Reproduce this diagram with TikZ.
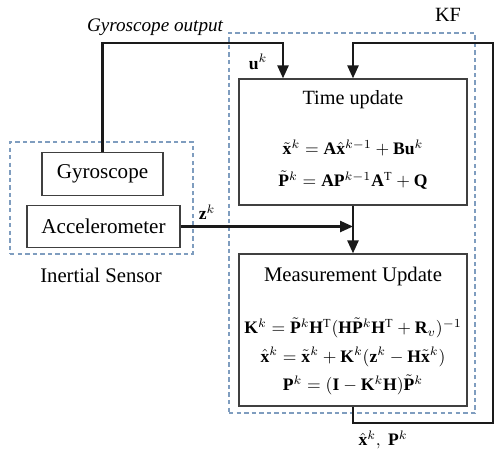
\documentclass[tikz,border=0pt]{standalone}
\usepackage{amsmath}
\usepackage{fontspec}
\setmainfont{Liberation Serif}
\usetikzlibrary{arrows.meta,positioning,fit,calc}
\definecolor{kfdash}{HTML}{7F9DBF}
\definecolor{kfline}{HTML}{1A1A1A}
\tikzset{
  blockbox/.style={
    draw=black!75,
    line width=0.7pt,
    minimum width=4.56cm,
    inner sep=0pt
  },
  sensorbox/.style={
    draw=black!75,
    line width=0.7pt,
    minimum height=0.85cm,
    inner sep=0pt,
    font=\fontsize{12}{14}\selectfont
  },
  groupbox/.style={
    draw=kfdash,
    line width=0.6pt,
    dash pattern=on 2.5pt off 1.8pt,
    inner sep=0pt
  },
  eqtext/.style={font=\fontsize{10}{12}\selectfont, inner sep=0pt},
  titletext/.style={font=\fontsize{11.8}{14}\selectfont, inner sep=0pt},
  arrow/.style={
    -{Triangle[length=2.6mm,width=2.2mm]},
    line width=1.4pt,
    draw=kfline
  }
}

\begin{document}
\begin{tikzpicture}[x=0.02cm, y=-0.02cm]
  \useasboundingbox (0,0) rectangle (500,451);
  % groups
  \node[groupbox, fit={(10,142) (193,254)}] (sensorgroup) {};
  \node[groupbox, fit={(229,33) (475,413)}] (kfgroup) {};
  \node[titletext, font=\fontsize{11.5}{14}\selectfont] (kflabel) at (448,15) {KF};
  \node[titletext] (sensorlabel) at (101,275) {Inertial Sensor};
  % sensors
  \node[sensorbox, minimum width=2.42cm] (gyro) at (102.5,174) {Gyroscope};
  \node[sensorbox, minimum width=3.06cm] (accel) at (103.5,226.5) {Accelerometer};
  % filter blocks
  \node[blockbox, minimum height=2.52cm] (timeupd) at (353,142) {};
  \node[blockbox, minimum height=3.04cm] (measupd) at (353,330) {};
  \node[titletext, font=\fontsize{11.5}{14}\selectfont] (timetitle) at (353,100) {Time update};
  \node[eqtext] (timeeqa) at (353,148) {$\tilde{\mathbf{x}}^{k} = \mathbf{A}\hat{\mathbf{x}}^{k-1} + \mathbf{B}\mathbf{u}^{k}$};
  \node[eqtext] (timeeqb) at (353,180) {$\tilde{\mathbf{P}}^{k} = \mathbf{A}\mathbf{P}^{k-1}\mathbf{A}^{\mathrm{T}} + \mathbf{Q}$};
  \node[titletext] (meastitle) at (353,277) {Measurement Update};
  \node[eqtext] (measeqa) at (353,328) {$\mathbf{K}^{k} = \tilde{\mathbf{P}}^{k}\mathbf{H}^{\mathrm{T}}(\mathbf{H}\tilde{\mathbf{P}}^{k}\mathbf{H}^{\mathrm{T}} + \mathbf{R}_{v})^{-1}$};
  \node[eqtext] (measeqb) at (353,357) {$\hat{\mathbf{x}}^{k} = \tilde{\mathbf{x}}^{k} + \mathbf{K}^{k}(\mathbf{z}^{k} - \mathbf{H}\tilde{\mathbf{x}}^{k})$};
  \node[eqtext] (measeqc) at (353,385) {$\mathbf{P}^{k} = (\mathbf{I} - \mathbf{K}^{k}\mathbf{H})\tilde{\mathbf{P}}^{k}$};
  % connectors
  \coordinate (uin) at (283,43);
  \coordinate (zjoin) at (353,226.5);
  \coordinate (fbcorner) at (493,423);
  \coordinate (fbtop) at (353,43);
  \draw[arrow] (gyro.north) |- (uin) -- (uin |- timeupd.north);
  \draw[arrow] (accel.east) -- (zjoin);
  \draw[arrow] (timeupd.south) -- (measupd.north);
  \draw[arrow] (measupd.south) |- (fbcorner) |- (fbtop) -- (fbtop |- timeupd.north);
  % signal labels
  \node[font=\fontsize{10.9}{13}\selectfont\itshape, inner sep=0pt] (gyrolabel) at (155,27) {Gyroscope output};
  \node[eqtext] (ulabel) at (258,62) {$\mathbf{u}^{k}$};
  \node[eqtext] (zlabel) at (207,212) {$\mathbf{z}^{k}$};
  \node[eqtext] (outlabel) at (383,440) {$\hat{\mathbf{x}}^{k},\ \mathbf{P}^{k}$};
\end{tikzpicture}
\end{document}
